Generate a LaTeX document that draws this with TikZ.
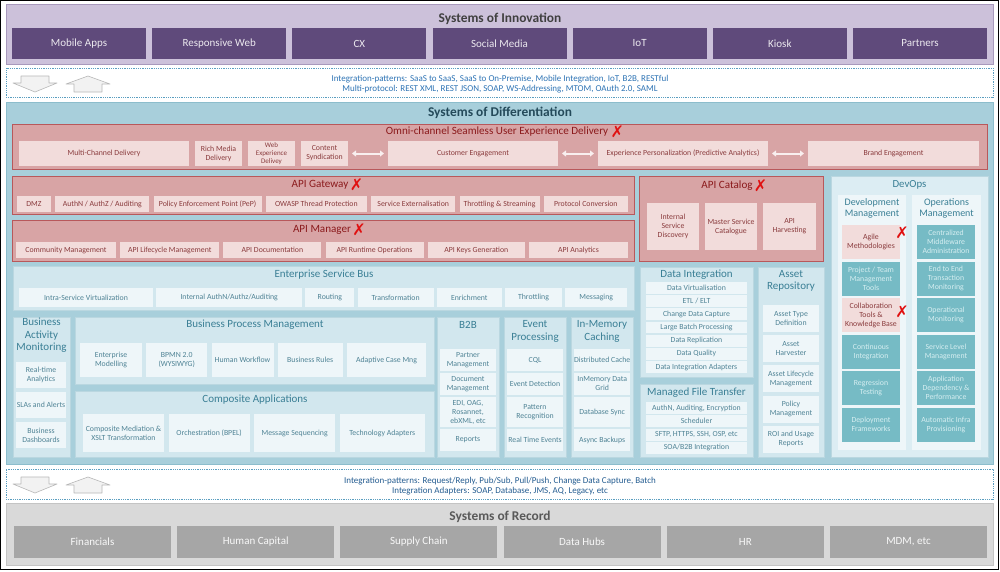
\documentclass[tikz,border=0pt]{standalone}
\usepackage{fontspec}
\setmainfont{Carlito}
\newfontfamily\symfont{DejaVu Sans}
\usetikzlibrary{positioning, arrows.meta}
\usepackage{xcolor}
\definecolor{innobg}{HTML}{CCC1DA}
\definecolor{innoline}{HTML}{A899BC}
\definecolor{innobox}{HTML}{5F4A7B}
\definecolor{bandline}{HTML}{5A9EC0}
\definecolor{bandtext}{HTML}{2E74B5}
\definecolor{diffbg}{HTML}{A8CFDB}
\definecolor{diffline}{HTML}{8CBDCC}
\definecolor{difftitle}{HTML}{244A5A}
\definecolor{omnibg}{HTML}{D8A4A5}
\definecolor{omniline}{HTML}{B8585B}
\definecolor{omnibox}{HTML}{F2DCDB}
\definecolor{omnitext}{HTML}{8A3B3D}
\definecolor{omnititle}{HTML}{8B1A1C}
\definecolor{esbbg}{HTML}{D2E7EE}
\definecolor{esbbox}{HTML}{EEF6F9}
\definecolor{esbtitle}{HTML}{3A7F95}
\definecolor{esbtext}{HTML}{4F8395}
\definecolor{devbg}{HTML}{DCEDF3}
\definecolor{devcol}{HTML}{EEF6F9}
\definecolor{devteal}{HTML}{76BBC5}
\definecolor{devtealtext}{HTML}{D6EEF1}
\definecolor{recbg}{HTML}{D9D9D9}
\definecolor{recline}{HTML}{C4C4C4}
\definecolor{recbox}{HTML}{A6A6A6}
\definecolor{xred}{HTML}{E01010}
\newcommand{\redx}{{\symfont\fontsize{16}{16}\selectfont\color{xred}✗}}

\begin{document}
\begin{tikzpicture}[x=1pt, y=-1pt, font=\fontsize{7.8}{9}\selectfont]
  \tikzstyle{panel}=[anchor=north west, inner sep=0pt, outer sep=0pt, line width=0.8pt]
  \tikzstyle{cell}=[anchor=north west, inner xsep=0pt, inner ysep=1pt, outer sep=0pt, align=center]
  \tikzstyle{systitle}=[font=\fontsize{13.4}{15}\selectfont\bfseries, inner sep=0pt]
  \tikzstyle{redtitle}=[font=\fontsize{11.1}{13}\selectfont, text=omnititle, inner sep=0pt]
  \tikzstyle{bluetitle}=[font=\fontsize{11}{12.5}\selectfont, text=esbtitle, inner sep=0pt, align=center]
  \tikzstyle{innocell}=[cell, fill=innobox, text=white!88!innobox, minimum width=134pt,
                        minimum height=31pt, font=\fontsize{11}{13}\selectfont]
  \tikzstyle{reccell}=[cell, fill=recbox, text=white!92!recbox, minimum width=157pt,
                       minimum height=32pt, font=\fontsize{11}{13}\selectfont]
  \tikzstyle{omnicell}=[cell, fill=omnibox, text=omnitext]
  \tikzstyle{esbcell}=[cell, fill=esbbox, text=esbtext]
  \tikzstyle{pinkcell}=[cell, fill=omnibox, text=omnitext, minimum width=58pt, minimum height=34pt]
  \tikzstyle{tealcell}=[cell, fill=devteal, text=devtealtext, minimum width=58pt, minimum height=34pt]
  \tikzstyle{bandbox}=[panel, draw=bandline, densely dotted, line width=0.6pt, fill=white]
  \tikzstyle{bandlabel}=[font=\fontsize{9}{10}\selectfont, text=bandtext, align=center, inner sep=0pt]
  \tikzstyle{blockarrow}=[fill=black!5, draw=black!28, line width=0.6pt, line join=round]
  \tikzstyle{dblarrow}=[draw=white!55!omnibox, line width=2pt, shorten <=4pt, shorten >=4pt,
                        {Triangle[length=4pt, width=6pt]}-{Triangle[length=4pt, width=6pt]}]

  \useasboundingbox (0,0) rectangle (1000,571);
  \node[panel, draw=black, line width=1.2pt, fill=white, minimum width=997.5pt, minimum height=568.5pt] (frame) at (0.8,0.8) {};

  % systems of innovation
  \node[panel, fill=innobg, draw=innoline, minimum width=987pt, minimum height=60pt] (innovation) at (6,4) {};
  \node[systitle, text=black!75] (innotitle) at (500,18.5) {Systems of Innovation};
  \foreach \name/\txt [count=\i from 0] in {mobile/Mobile Apps, respweb/Responsive Web, cx/CX,
      social/Social Media, iot/IoT, kiosk/Kiosk, partners/Partners}
    \node[innocell] (\name) at ({12+\i*140.17},28) {\txt};

  % integration bands
  \node[bandbox, minimum width=987pt, minimum height=29pt] (bandtop) at (6,68) {};
  \node[bandlabel] (bandtoptext) at (500,84) {Integration-patterns: SaaS to SaaS, SaaS to On-Premise, Mobile Integration, IoT, B2B, RESTful\\Multi-protocol: REST XML, REST JSON, SOAP, WS-Addressing, MTOM, OAuth 2.0, SAML};
  \node[bandbox, minimum width=987pt, minimum height=30pt] (bandbottom) at (6,469) {};
  \node[bandlabel, text=bandtext!80!black] (bandbottomtext) at (500,486) {Integration-patterns: Request/Reply, Pub/Sub, Pull/Push, Change Data Capture, Batch\\Integration Adapters: SOAP, Database, JMS, AQ, Legacy, etc};
  \foreach \ay in {76,477} {
    \draw[blockarrow] (21,\ay) -- (49,\ay) -- (49,\ay+7) -- (57,\ay+7) -- (35,\ay+16) -- (13,\ay+7) -- (21,\ay+7) -- cycle;
    \draw[blockarrow] (88,\ay) -- (110,\ay+8) -- (102,\ay+8) -- (102,\ay+16) -- (74,\ay+16) -- (74,\ay+8) -- (66,\ay+8) -- cycle;
  }

  % systems of differentiation
  \node[panel, fill=diffbg, draw=diffline, minimum width=987pt, minimum height=362pt] (differentiation) at (6,102) {};
  \node[systitle, text=difftitle] (difftitle) at (500,113) {Systems of Differentiation};

  % omni-channel
  \node[panel, fill=omnibg, draw=omniline, minimum width=975pt, minimum height=45pt] (omni) at (12,124) {};
  \node[redtitle] (omnititle) at (497,131.5) {Omni-channel Seamless User Experience Delivery};
  \node[right=2pt of omnititle, inner sep=0pt] (omnix) {\redx};
  \node[omnicell, minimum width=170pt, minimum height=25pt] (multich) at (19,141) {Multi-Channel Delivery};
  \node[omnicell, minimum width=47pt, minimum height=25pt, right=6pt of multich] (richmedia) {Rich Media\\Delivery};
  \node[omnicell, minimum width=47pt, minimum height=25pt, right=6pt of richmedia, font=\fontsize{7}{7.8}\selectfont] (webexp) {Web\\Experience\\Delivey};
  \node[omnicell, minimum width=47pt, minimum height=25pt, right=6pt of webexp] (syndication) {Content\\Syndication};
  \node[omnicell, minimum width=170pt, minimum height=25pt, right=40pt of syndication] (custeng) {Customer Engagement};
  \node[omnicell, minimum width=170pt, minimum height=25pt, right=40pt of custeng] (personal) {Experience Personalization (Predictive Analytics)};
  \node[omnicell, minimum width=171pt, minimum height=25pt, right=40pt of personal] (brandeng) {Brand Engagement};
  \draw[dblarrow] (syndication) -- (custeng);
  \draw[dblarrow] (custeng) -- (personal);
  \draw[dblarrow] (personal) -- (brandeng);

  % api gateway
  \node[panel, fill=omnibg, draw=omniline, minimum width=622pt, minimum height=38pt] (gateway) at (12,176) {};
  \node[redtitle] (gatewaytitle) at (320,184.5) {API Gateway};
  \node[right=1pt of gatewaytitle, inner sep=0pt] (gatewayx) {\redx};
  \node[omnicell, minimum width=34pt, minimum height=16pt] (dmz) at (17,196) {DMZ};
  \node[omnicell, minimum width=94pt, minimum height=16pt, right=4.3pt of dmz] (authn) {AuthN / AuthZ / Auditing};
  \node[omnicell, minimum width=108pt, minimum height=16pt, right=4.3pt of authn] (pep) {Policy Enforcement Point (PeP)};
  \node[omnicell, minimum width=101pt, minimum height=16pt, right=4.3pt of pep] (owasp) {OWASP Thread Protection};
  \node[omnicell, minimum width=84pt, minimum height=16pt, right=4.3pt of owasp] (externalise) {Service Externalisation};
  \node[omnicell, minimum width=80pt, minimum height=16pt, right=4.3pt of externalise] (throttlestream) {Throttling \& Streaming};
  \node[omnicell, minimum width=84pt, minimum height=16pt, right=4.3pt of throttlestream] (protoconv) {Protocol Conversion};

  % api manager
  \node[panel, fill=omnibg, draw=omniline, minimum width=622pt, minimum height=41pt] (manager) at (12,220) {};
  \node[redtitle] (managertitle) at (322,229.5) {API Manager};
  \node[right=1pt of managertitle, inner sep=0pt] (managerx) {\redx};
  \node[omnicell, minimum width=100pt, minimum height=16pt] (community) at (16,242) {Community Management};
  \node[omnicell, minimum width=99pt, minimum height=16pt, right=4.2pt of community] (lifecycle) {API Lifecycle Management};
  \node[omnicell, minimum width=98pt, minimum height=16pt, right=4.2pt of lifecycle] (apidoc) {API Documentation};
  \node[omnicell, minimum width=98pt, minimum height=16pt, right=4.2pt of apidoc] (runtime) {API Runtime Operations};
  \node[omnicell, minimum width=97pt, minimum height=16pt, right=4.2pt of runtime] (apikeys) {API Keys Generation};
  \node[omnicell, minimum width=99pt, minimum height=16pt, right=4.2pt of apikeys] (analytics) {API Analytics};

  % api catalog
  \node[panel, fill=omnibg, draw=omniline, minimum width=184pt, minimum height=85pt] (catalog) at (639,176) {};
  \node[redtitle] (catalogtitle) at (727,185.5) {API Catalog};
  \node[right=1pt of catalogtitle, inner sep=0pt] (catalogx) {\redx};
  \node[omnicell, minimum width=52pt, minimum height=47pt] (discovery) at (647,203) {Internal\\Service\\Discovery};
  \node[omnicell, minimum width=52pt, minimum height=47pt, right=6pt of discovery] (mastercat) {Master Service\\Catalogue};
  \node[omnicell, minimum width=53pt, minimum height=47pt, right=6pt of mastercat] (harvesting) {API\\Harvesting};

  % devops
  \node[panel, fill=devbg, draw=white!40!diffline, minimum width=157pt, minimum height=281pt] (devops) at (831,176) {};
  \node[bluetitle, font=\fontsize{10.8}{12}\selectfont] (devopstitle) at (909.5,185) {DevOps};
  \node[panel, fill=devcol, minimum width=68pt, minimum height=255pt] (devmgmt) at (838,195) {};
  \node[panel, fill=devcol, minimum width=69pt, minimum height=255pt] (opsmgmt) at (912,195) {};
  \node[bluetitle, font=\fontsize{10}{11}\selectfont] (devmgmttitle) at (872,208) {Development\\Management};
  \node[bluetitle, font=\fontsize{10}{11}\selectfont] (opsmgmttitle) at (946.5,208) {Operations\\Management};
  \foreach \name/\txt/\sty [count=\i from 0] in {agile/{Agile\\Methodologies}/pinkcell,
      teamtools/{Project / Team\\Management\\Tools}/tealcell,
      collab/{Collaboration\\Tools \&\\Knowledge Base}/pinkcell,
      contint/{Continuous\\Integration}/tealcell,
      regression/{Regression\\Testing}/tealcell,
      deploy/{Deployment\\Frameworks}/tealcell}
    \node[\sty] (\name) at (842,{225+\i*36.5}) {\txt};
  \foreach \name/\txt [count=\i from 0] in {middleware/{Centralized\\Middleware\\Administration},
      endtoend/{End to End\\Transaction\\Monitoring},
      opmon/{Operational\\Monitoring},
      servicelevel/{Service Level\\Management},
      appdep/{Application\\Dependency \&\\Performance},
      infra/{Automatic Infra\\Provisioning}}
    \node[tealcell] (\name) at (917,{225+\i*36.5}) {\txt};
  \node[inner sep=0pt] (agilex) at (902,233) {\redx};
  \node[inner sep=0pt] (collabx) at (902,312) {\redx};

  % enterprise service bus
  \node[panel, fill=esbbg, draw=white!40!diffline, line width=0.5pt, minimum width=621pt, minimum height=44pt] (esb) at (13,266) {};
  \node[bluetitle] (esbtitle) at (324,275) {Enterprise Service Bus};
  \node[esbcell, minimum width=134pt, minimum height=19pt] (virtual) at (19,288) {Intra-Service Virtualization};
  \node[esbcell, minimum width=146pt, minimum height=19pt, right=3.2pt of virtual] (intauth) {Internal AuthN/Authz/Auditing};
  \node[esbcell, minimum width=49pt, minimum height=19pt, right=3.2pt of intauth] (routing) {Routing};
  \node[esbcell, minimum width=76pt, minimum height=19pt, right=3.2pt of routing] (transform) {Transformation};
  \node[esbcell, minimum width=65pt, minimum height=19pt, right=3.2pt of transform] (enrich) {Enrichment};
  \node[esbcell, minimum width=57pt, minimum height=19pt, right=3.2pt of enrich] (throttling) {Throttling};
  \node[esbcell, minimum width=62pt, minimum height=19pt, right=3.2pt of throttling] (messaging) {Messaging};

  % business activity monitoring
  \node[panel, fill=esbbg, draw=white!40!diffline, line width=0.5pt, minimum width=57pt, minimum height=140pt] (bam) at (13,317) {};
  \node[bluetitle] (bamtitle) at (41.5,335.5) {Business\\Activity\\Monitoring};
  \node[esbcell, minimum width=50pt, minimum height=26pt] (realtime) at (16,362) {Real-time\\Analytics};
  \node[esbcell, minimum width=50pt, minimum height=26pt, below=4pt of realtime] (slas) {SLAs and Alerts};
  \node[esbcell, minimum width=50pt, minimum height=26pt, below=4pt of slas] (dashboards) {Business\\Dashboards};

  % business process management
  \node[panel, fill=esbbg, draw=white!40!diffline, line width=0.5pt, minimum width=359pt, minimum height=67pt] (bpm) at (75,317) {};
  \node[bluetitle] (bpmtitle) at (255,325) {Business Process Management};
  \node[esbcell, minimum width=62pt, minimum height=34pt] (entmodel) at (80,343) {Enterprise\\Modelling};
  \node[esbcell, minimum width=61pt, minimum height=34pt, right=4.25pt of entmodel] (bpmn) {BPMN 2.0\\(WYSIWYG)};
  \node[esbcell, minimum width=62pt, minimum height=34pt, right=4.25pt of bpmn] (workflow) {Human Workflow};
  \node[esbcell, minimum width=65pt, minimum height=34pt, right=4.25pt of workflow] (rules) {Business Rules};
  \node[esbcell, minimum width=79pt, minimum height=34pt, right=4.25pt of rules] (casemng) {Adaptive Case Mng};

  % composite applications
  \node[panel, fill=esbbg, draw=white!40!diffline, line width=0.5pt, minimum width=359pt, minimum height=66pt] (composite) at (75,391) {};
  \node[bluetitle] (compositetitle) at (255,400) {Composite Applications};
  \node[esbcell, minimum width=81pt, minimum height=38pt] (mediation) at (83,414) {Composite Mediation \&\\XSLT Transformation};
  \node[esbcell, minimum width=81pt, minimum height=38pt, right=4.6pt of mediation] (orchestration) {Orchestration (BPEL)};
  \node[esbcell, minimum width=81pt, minimum height=38pt, right=4.6pt of orchestration] (sequencing) {Message Sequencing};
  \node[esbcell, minimum width=85pt, minimum height=38pt, right=4.6pt of sequencing] (techadapt) {Technology Adapters};

  % b2b, event processing, in-memory caching
  \node[panel, fill=esbbg, draw=white!40!diffline, line width=0.5pt, minimum width=62pt, minimum height=140pt] (b2b) at (437,317) {};
  \node[bluetitle] (b2btitle) at (468,325) {B2B};
  \node[esbcell, minimum width=56pt, minimum height=22pt] (partnermgmt) at (440,349) {Partner\\Management};
  \node[esbcell, minimum width=56pt, minimum height=22pt, below=2pt of partnermgmt] (docmgmt) {Document\\Management};
  \node[esbcell, minimum width=56pt, minimum height=30pt, below=2pt of docmgmt] (edi) {EDI, OAG,\\Rosannet,\\ebXML, etc};
  \node[esbcell, minimum width=56pt, minimum height=22pt, below=2pt of edi] (reports) {Reports};

  \node[panel, fill=esbbg, draw=white!40!diffline, line width=0.5pt, minimum width=62pt, minimum height=140pt] (eventproc) at (504,317) {};
  \node[bluetitle, font=\fontsize{11}{13}\selectfont] (eventtitle) at (535,331.5) {Event\\Processing};
  \node[esbcell, minimum width=56pt, minimum height=22pt] (cql) at (507,349) {CQL};
  \node[esbcell, minimum width=56pt, minimum height=22pt, below=2pt of cql] (detection) {Event Detection};
  \node[esbcell, minimum width=56pt, minimum height=30pt, below=2pt of detection] (pattern) {Pattern\\Recognition};
  \node[esbcell, minimum width=56pt, minimum height=22pt, below=2pt of pattern] (realtimeev) {Real Time Events};

  \node[panel, fill=esbbg, draw=white!40!diffline, line width=0.5pt, minimum width=62pt, minimum height=140pt] (caching) at (571,317) {};
  \node[bluetitle, font=\fontsize{11}{13}\selectfont] (cachingtitle) at (602,331.5) {In-Memory\\Caching};
  \node[esbcell, minimum width=56pt, minimum height=22pt] (distcache) at (574,349) {Distributed Cache};
  \node[esbcell, minimum width=56pt, minimum height=22pt, below=2pt of distcache] (datagrid) {InMemory Data\\Grid};
  \node[esbcell, minimum width=56pt, minimum height=30pt, below=2pt of datagrid] (dbsync) {Database Sync};
  \node[esbcell, minimum width=56pt, minimum height=22pt, below=2pt of dbsync] (asyncbk) {Async Backups};

  % data integration
  \node[panel, fill=esbbg, draw=white!40!diffline, line width=0.5pt, minimum width=113pt, minimum height=110pt] (dataint) at (640,267) {};
  \node[bluetitle] (datainttitle) at (696.5,275) {Data Integration};
  \foreach \name/\txt [count=\i from 0] in {virtualisation/{Data Virtualisation}, etl/{ETL / ELT},
      cdc/{Change Data Capture}, largebatch/{Large Batch Processing}, replication/{Data Replication},
      quality/{Data Quality}, diadapters/{Data Integration Adapters}}
    \node[esbcell, inner sep=0pt, minimum width=101pt, minimum height=11.8pt] (\name) at (646,{282+\i*13.2}) {\txt};

  % managed file transfer
  \node[panel, fill=esbbg, draw=white!40!diffline, line width=0.5pt, minimum width=113pt, minimum height=73pt] (mft) at (640,384) {};
  \node[bluetitle] (mfttitle) at (696.5,392.5) {Managed File Transfer};
  \foreach \name/\txt [count=\i from 0] in {mftauth/{AuthN, Auditing, Encryption}, scheduler/{Scheduler},
      sftp/{SFTP, HTTPS, SSH, OSP, etc}, soab2b/{SOA/B2B Integration}}
    \node[esbcell, inner sep=0pt, minimum width=101pt, minimum height=12pt] (\name) at (646,{402+\i*13.3}) {\txt};

  % asset repository
  \node[panel, fill=esbbg, draw=white!40!diffline, line width=0.5pt, minimum width=66pt, minimum height=190pt] (assetrepo) at (758,267) {};
  \node[bluetitle] (assettitle) at (791,281) {Asset\\Repository};
  \foreach \name/\txt [count=\i from 0] in {assettype/{Asset Type\\Definition}, harvester/{Asset\\Harvester},
      assetlife/{Asset Lifecycle\\Management}, policymgmt/{Policy\\Management}, roi/{ROI and Usage\\Reports}}
    \node[esbcell, minimum width=56pt, minimum height=27pt] (\name) at (763,{305+\i*30.2}) {\txt};

  % systems of record
  \node[panel, fill=recbg, draw=recline, minimum width=987pt, minimum height=62pt] (record) at (6,503) {};
  \node[systitle, text=black!65] (recordtitle) at (500,517) {Systems of Record};
  \foreach \name/\txt [count=\i from 0] in {financials/Financials, humancap/Human Capital,
      supply/Supply Chain, datahubs/Data Hubs, hr/HR, mdm/{MDM, etc}}
    \node[reccell] (\name) at ({14+\i*163.2},526) {\txt};
\end{tikzpicture}
\end{document}
